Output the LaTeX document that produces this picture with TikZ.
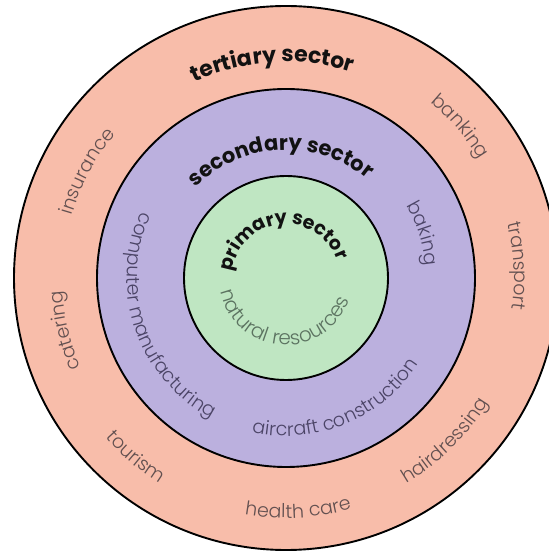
\documentclass[tikz,border=0pt]{standalone}
\usepackage{fontspec}
\setmainfont{Poppins}
\newfontfamily\labelfont{Poppins Light}
\usetikzlibrary{decorations.text}

\definecolor{tertiaryfill}{RGB}{248,189,170}
\definecolor{secondaryfill}{RGB}{187,176,222}
\definecolor{primaryfill}{RGB}{191,230,194}
\definecolor{tertiarytext}{RGB}{98,80,80}
\definecolor{secondarytext}{RGB}{75,68,102}
\definecolor{primarytext}{RGB}{92,115,97}
\definecolor{headtext}{RGB}{18,18,18}

% curved label: #1 format, #2 text, #3 baseline radius (pt), #4 middle angle,
% #5 = 1 for letters facing outward (clockwise), -1 for letters facing the centre
\newcommand\ringtext[5]{%
  \path[shift={(O)},decorate,
        decoration={text along path,text align=center,text={|#1|#2}}]
    ({#4+#5*150}:#3pt) arc[start angle={#4+#5*150},end angle={#4-#5*150},radius=#3pt];}

\newcommand\headfmt[1]{\fontsize{#1}{#1}\selectfont\bfseries\color{headtext}}
\newcommand\tertfmt{\fontsize{19}{19}\selectfont\labelfont\color{tertiarytext}}
\newcommand\secfmt{\fontsize{19}{19}\selectfont\labelfont\color{secondarytext}}
\newcommand\primfmt{\fontsize{20}{20}\selectfont\labelfont\color{primarytext}}

\tikzset{ring/.style={draw=black,line width=1.9pt}}

\begin{document}
\begin{tikzpicture}
  \useasboundingbox (0,0) rectangle (549pt,552pt);
  \clip (0,0) rectangle (549pt,552pt);
  \fill[white] (0,0) rectangle (549pt,552pt);
  \coordinate (O) at (286pt,274pt);

  % the three sectors as nested discs
  \draw[ring,fill=tertiaryfill]  (O) circle[radius=272pt];
  \draw[ring,fill=secondaryfill] (O) circle[radius=189pt];
  \draw[ring,fill=primaryfill]   (O) circle[radius=102pt];

  % sector titles
  \ringtext{\headfmt{22}}{tertiary sector}{216}{93.7}{1}
  \ringtext{\headfmt{21}}{secondary sector}{128}{92.75}{1}
  \ringtext{\headfmt{19}}{primary sector}{54}{96}{1}

  % primary sector
  \ringtext{\primfmt}{natural resources}{67}{266.25}{-1}

  % secondary sector
  \ringtext{\secfmt}{computer manufacturing}{159}{198.6}{-1}
  \ringtext{\secfmt}{aircraft construction}{158}{292.25}{-1}
  \ringtext{\secfmt}{baking}{140}{18}{1}

  % tertiary sector
  \ringtext{\tertfmt}{insurance}{223}{151.8}{1}
  \ringtext{\tertfmt}{catering}{224}{193.4}{1}
  \ringtext{\tertfmt}{banking}{227}{41}{1}
  \ringtext{\tertfmt}{transport}{228}{3}{1}
  \ringtext{\tertfmt}{hairdressing}{238}{314.3}{-1}
  \ringtext{\tertfmt}{health care}{240}{273}{-1}
  \ringtext{\tertfmt}{tourism}{241}{230}{-1}
\end{tikzpicture}
\end{document}
